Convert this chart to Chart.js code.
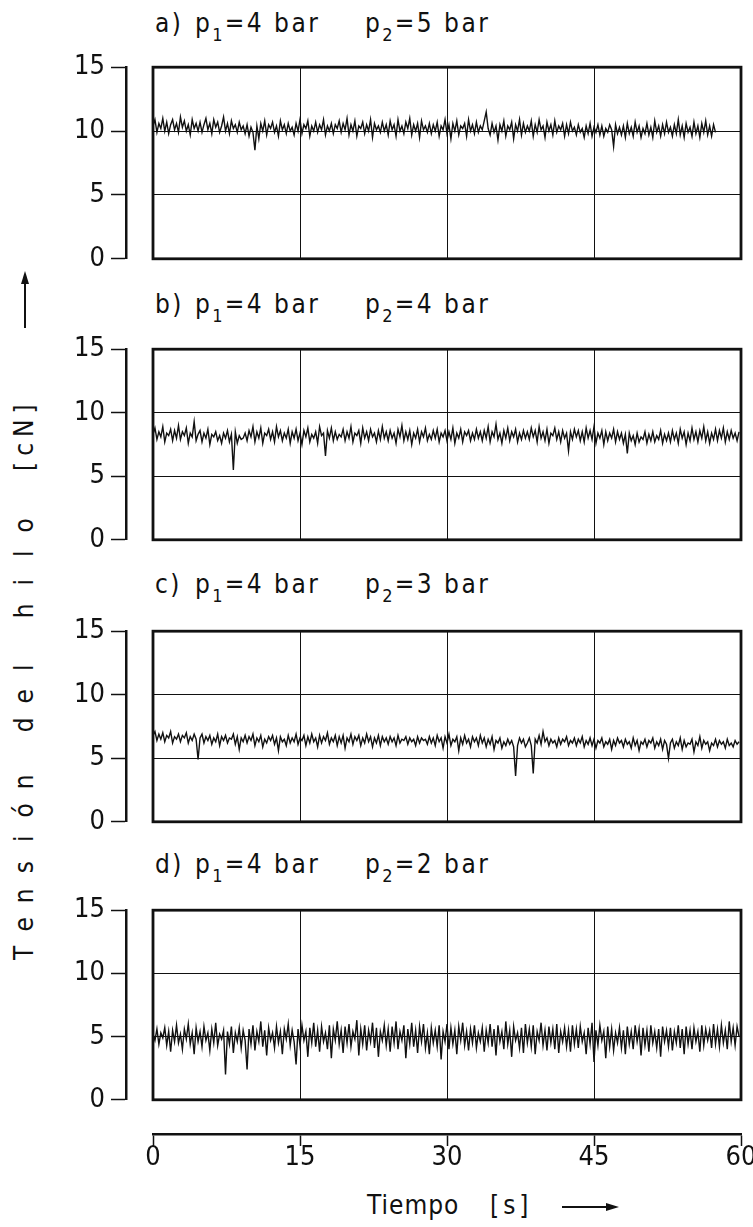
<!DOCTYPE html>
<html><head><meta charset="utf-8">
<script src="https://cdn.jsdelivr.net/npm/chart.js@4.4.1/dist/chart.umd.min.js"></script>
<style>
html,body{margin:0;padding:0;background:#fff;}
body{width:753px;height:1227px;position:relative;overflow:hidden;font-family:'Liberation Sans Narrow','DejaVu Sans Condensed','Liberation Sans',sans-serif;color:#111;}
canvas{position:absolute;left:0;}
.t{position:absolute;font-size:26px;line-height:26px;letter-spacing:2.5px;white-space:nowrap;}
.t sub{font-size:18px;vertical-align:-9px;line-height:0;letter-spacing:2px;}
#ytitle{position:absolute;left:0;top:0;transform-origin:0 0;font-size:26px;line-height:26px;white-space:nowrap;}
#ytitle span.c{display:inline-block;width:28.5px;text-align:center;}
.ln{position:absolute;background:#111;}
.tri-up{position:absolute;width:0;height:0;border-left:4px solid transparent;border-right:4px solid transparent;border-bottom:13px solid #111;}
.tri-right{position:absolute;width:0;height:0;border-top:4px solid transparent;border-bottom:4px solid transparent;border-left:13px solid #111;}
</style></head>
<body>
<div id="titles"></div>
<div id="ytitle"></div>
<div class="ln" style="left:24px;top:282px;width:2px;height:46px;"></div>
<div class="tri-up" style="left:21px;top:271px;"></div>
<div class="t" style="left:367px;top:1192px;letter-spacing:1px;">Tiempo</div>
<div class="t" style="left:490px;top:1192px;letter-spacing:4px;">[s]</div>
<div class="ln" style="left:562px;top:1206px;width:46px;height:2px;"></div>
<div class="tri-right" style="left:606px;top:1203px;"></div>
<script>
// ---------------- data ----------------
const STEP = 0.2; // seconds between samples
const panelLetters = ['a)', 'b)', 'c)', 'd)'];
const p1Values = [4, 4, 4, 4];
const p2Values = [5, 4, 3, 2];
const yTickValues = [0, 5, 10, 15];
const xTickValues = [0, 15, 30, 45, 60];
const yAxisTitle = 'Tensión del hilo';
const yAxisUnit = '[cN]';

const panelA = [
10.4,10.9,9.9,10.6,10.2,11.0,10.0,10.7,9.8,10.5,10.9,10.1,10.6,9.9,11.1,10.3,10.8,10.0,10.5,9.7,10.9,10.2,10.6,10.0,
10.7,9.9,10.5,11.0,10.1,10.6,9.8,10.9,10.3,10.7,9.9,10.4,11.1,10.0,10.6,9.8,10.8,10.2,10.5,9.9,10.7,10.1,10.4,9.8,
10.5,9.6,10.3,9.9,8.5,10.4,9.4,10.6,10.0,10.8,9.7,10.5,10.2,10.7,9.9,10.4,9.6,10.8,10.1,10.5,9.8,10.6,10.0,10.3,
9.7,10.6,10.0,10.9,9.8,10.5,10.2,10.8,9.6,10.4,10.0,10.7,9.9,10.5,10.1,10.9,9.7,10.4,10.0,10.6,9.8,10.5,10.2,10.8,
9.9,10.6,10.1,11.0,9.7,10.5,10.0,10.8,9.6,10.4,10.2,10.7,9.8,10.5,10.0,10.9,9.5,10.6,10.1,10.4,9.9,10.7,10.0,10.5,
9.7,10.8,10.1,10.5,9.6,10.9,10.0,10.4,9.8,10.7,10.2,11.0,9.7,10.5,10.0,10.6,9.5,10.8,10.1,10.4,9.9,10.6,9.8,10.5,
10.0,10.7,9.6,10.4,10.1,10.9,9.8,10.5,9.4,10.6,10.0,10.8,9.7,10.4,10.2,10.6,9.6,10.9,10.0,10.5,9.8,10.7,9.9,10.4,
10.1,10.8,11.5,10.2,9.7,10.6,9.9,10.4,9.3,10.5,10.0,10.8,9.6,10.4,10.1,10.7,9.4,10.5,10.0,10.9,9.7,10.6,9.9,10.4,
10.0,10.8,9.6,10.5,9.9,10.9,10.1,10.4,9.5,10.7,10.0,10.5,9.7,10.8,9.9,10.4,10.1,10.6,9.6,10.5,9.8,10.7,10.0,10.3,
9.7,10.5,9.9,10.2,9.5,10.4,9.8,10.6,9.6,10.3,9.9,10.5,9.7,10.4,9.6,10.2,9.9,10.5,10.1,8.8,10.5,9.8,10.3,9.7,
10.4,9.5,10.6,9.8,10.3,9.6,10.7,9.9,10.4,9.5,10.2,9.8,10.6,9.7,10.3,9.5,10.8,9.9,10.4,9.6,10.5,9.8,10.7,9.9,
10.3,9.6,10.5,9.8,10.9,9.7,10.4,9.5,10.6,9.9,10.3,9.6,10.7,9.8,10.4,9.5,10.6,9.9,10.8,9.7,10.4,9.6,10.5,9.9
];
const panelB = [
8.3,8.8,7.9,8.5,8.1,8.9,7.7,8.4,8.2,8.7,7.8,8.6,8.0,9.0,7.9,8.5,8.2,8.8,7.6,8.4,8.1,9.3,7.8,8.3,
8.6,7.7,8.4,8.0,8.7,7.5,8.3,8.1,8.5,7.8,8.2,7.6,8.4,8.0,8.6,7.7,8.3,5.5,8.5,7.6,8.2,7.9,8.0,8.4,
7.8,8.6,8.1,8.9,7.7,8.5,8.0,8.8,7.6,8.4,8.2,8.7,7.9,8.5,7.7,8.9,8.1,8.6,7.8,8.4,8.0,8.7,7.6,8.5,
8.0,8.7,7.8,8.4,7.5,8.6,8.1,8.8,7.7,8.3,8.0,8.5,7.6,8.9,8.2,8.4,6.6,8.6,8.0,8.8,7.8,8.5,7.9,8.3,
8.1,8.7,7.8,8.5,8.0,8.9,7.7,8.4,8.2,8.6,7.6,8.8,8.0,8.5,7.8,8.7,8.1,8.4,7.7,8.6,7.9,8.9,8.0,8.5,
7.8,8.6,8.0,8.4,7.6,8.7,8.1,9.0,7.8,8.5,7.9,8.6,7.5,8.4,8.0,8.7,7.7,8.5,8.1,8.8,7.8,8.3,7.9,8.6,
8.0,8.7,7.7,8.4,8.1,8.6,7.8,8.5,7.9,8.8,7.6,8.4,8.0,8.7,7.7,8.5,8.2,8.6,7.8,8.4,7.9,8.7,8.0,8.5,
7.8,8.6,8.0,8.9,7.7,8.5,8.1,9.1,7.9,8.4,7.6,8.6,8.0,8.8,7.8,8.5,8.1,8.7,7.7,8.4,7.9,8.6,8.0,8.5,
7.9,8.8,8.1,8.6,7.7,8.9,8.0,8.5,7.8,8.7,7.6,8.4,8.2,8.8,7.9,8.5,7.7,8.6,8.0,8.4,7.0,8.5,7.9,8.7,
8.1,8.6,7.8,8.5,7.7,8.8,8.0,8.6,7.9,8.9,7.6,8.4,8.0,8.6,7.5,8.5,7.8,8.4,8.0,8.7,7.7,8.5,7.9,8.4,
7.6,8.3,6.8,8.4,7.8,8.2,7.5,8.4,7.7,8.1,7.9,8.5,7.6,8.3,7.8,8.5,7.7,8.2,7.9,8.6,7.6,8.3,7.8,8.4,
7.7,8.6,7.9,8.4,7.6,8.7,8.0,8.5,7.5,8.4,7.8,8.8,7.9,8.5,7.7,8.6,8.0,8.9,7.8,8.5,7.6,8.4,7.9,8.7,
7.8,8.6,8.0,8.8,7.7,8.5,7.9,8.6,8.0,8.4,7.8,8.5
];
const panelC = [
6.8,7.1,6.4,6.9,6.5,7.0,6.3,6.8,6.6,7.1,6.2,6.7,6.5,6.9,6.3,6.8,6.6,7.0,6.2,6.7,6.4,6.9,6.5,4.9,
6.6,6.9,6.2,6.7,6.4,6.8,6.1,6.6,6.3,6.9,6.0,6.7,6.4,6.8,6.2,6.6,6.5,6.9,6.1,6.7,5.7,6.6,6.3,6.8,
6.2,6.7,6.4,6.9,6.0,6.6,6.3,6.8,5.9,6.5,6.2,6.7,6.4,6.8,6.1,6.6,5.6,6.7,6.3,6.5,6.0,6.8,6.2,6.6,
6.3,6.9,6.1,6.6,6.4,6.8,6.0,6.7,6.2,6.9,6.3,6.6,5.9,6.8,6.2,6.7,6.4,7.0,6.1,6.6,6.3,6.8,6.0,6.7,
6.2,6.8,5.8,6.6,6.3,6.9,6.1,6.7,6.4,6.8,6.0,6.6,6.2,6.9,6.3,6.7,5.9,6.6,6.2,6.8,6.0,6.7,6.3,6.6,
6.1,6.7,6.3,6.6,6.0,6.8,6.2,6.5,6.4,6.7,6.1,6.6,6.3,6.5,6.0,6.7,6.2,6.6,6.4,6.5,6.1,6.7,6.2,6.6,
6.0,6.8,6.3,6.6,5.8,6.7,6.2,6.9,6.0,6.5,6.3,6.7,5.6,6.6,6.1,6.8,6.2,6.5,5.9,6.7,6.3,6.6,6.0,6.8,
6.2,6.6,5.9,6.5,6.1,6.7,5.7,6.4,6.2,6.6,5.8,6.3,6.0,6.5,6.1,6.4,5.9,3.6,6.0,6.6,6.2,6.5,5.9,6.2,
6.6,6.0,3.8,6.5,6.2,6.8,6.1,7.1,6.3,6.6,6.0,6.5,6.2,6.4,5.9,6.6,6.1,6.5,6.3,6.7,6.0,6.4,6.2,6.6,
6.0,6.5,6.2,6.7,5.9,6.4,6.1,6.6,6.0,6.5,5.8,6.4,6.2,6.6,5.9,6.3,6.1,6.5,5.7,6.4,6.0,6.6,6.2,6.4,
5.9,6.5,6.1,6.3,5.8,6.6,6.0,6.4,5.6,6.3,6.1,6.5,5.9,6.4,6.2,6.6,5.8,6.3,6.0,6.5,5.7,6.4,6.1,5.0,
6.2,6.5,5.8,6.3,6.0,6.6,5.7,6.4,5.9,6.2,6.1,6.5,5.5,6.3,6.0,6.7,5.8,6.4,6.1,6.3,5.6,6.2,6.0,6.5,
5.9,6.4,6.1,6.3,5.8,6.5,6.0,6.2,5.9,6.4,6.1,6.3
];
const panelD = [
5.2,4.7,5.6,4.4,5.3,4.9,5.7,4.3,5.4,3.8,5.5,4.6,5.9,4.5,5.2,4.0,5.6,4.8,6.0,4.4,5.3,3.6,5.7,4.6,
5.4,4.2,5.8,4.7,5.3,3.9,5.6,4.5,6.1,4.3,5.2,4.8,5.5,2.0,5.4,4.4,5.8,3.7,5.3,4.6,5.7,4.1,5.5,4.7,
2.4,5.6,4.4,5.9,3.9,5.4,4.6,6.2,4.2,5.5,3.5,5.7,4.7,5.3,4.1,5.8,4.5,5.4,3.6,5.6,4.8,6.0,4.3,5.5,
4.6,2.8,5.6,4.3,5.9,4.7,5.4,3.4,5.7,4.5,6.1,4.2,5.5,3.8,5.8,4.6,5.3,4.0,5.9,3.3,5.6,4.7,6.2,4.4,
5.5,3.7,5.8,4.5,6.0,4.2,5.4,4.8,6.3,3.5,5.6,4.4,5.9,3.9,5.5,4.6,6.1,4.1,5.7,3.4,5.4,4.7,5.9,4.3,
5.6,3.8,5.8,4.5,6.2,4.0,5.4,4.7,5.9,3.3,5.6,4.4,6.1,4.2,5.5,3.7,5.8,4.6,6.0,4.1,5.3,3.6,5.7,4.5,
5.5,4.2,5.9,3.2,5.4,4.6,6.0,4.0,5.7,4.4,5.5,3.6,5.8,4.7,6.1,4.3,5.4,3.9,5.6,4.5,5.9,4.1,5.3,4.6,
5.7,3.8,5.5,4.5,6.0,4.2,5.6,3.5,5.9,4.6,5.4,4.0,6.2,4.4,5.5,3.4,5.8,4.7,5.3,4.1,5.7,3.7,6.0,4.5,
5.6,4.2,5.9,3.6,5.4,4.7,6.1,4.3,5.5,3.9,5.8,4.5,5.6,4.0,6.0,3.7,5.4,4.6,5.7,4.2,5.5,3.8,5.9,4.4,
5.6,4.1,5.8,4.6,5.3,3.6,5.7,4.4,6.1,3.0,5.5,4.3,5.9,4.7,5.4,3.3,5.8,4.2,5.6,3.9,5.3,4.5,5.7,4.1,
5.5,3.6,5.8,4.4,5.4,4.0,5.9,4.6,5.6,3.5,5.7,4.3,5.5,3.8,5.9,4.5,5.4,4.1,5.6,3.4,5.8,4.6,5.5,4.2,
5.7,3.9,5.4,4.5,5.9,4.1,5.6,3.6,5.8,4.4,5.5,4.0,5.7,4.6,5.4,3.8,5.9,4.3,5.6,4.7,5.5,4.1,6.0,4.4,
5.6,4.2,5.9,4.5,5.5,4.0,6.2,4.6,5.7,4.3,5.8,5.0
];
const panelSeries = [panelA, panelB, panelC, panelD];

// ---------------- layout ----------------
const FONT = "'Liberation Sans Narrow','DejaVu Sans Condensed','Liberation Sans',sans-serif";
const INK = '#111';
const panelTops = [59, 341, 623, 902];
const panelBottoms = [267, 548, 830, 1108];
const titleTops = [10, 291, 571, 851];
const PAD = 14;

const boxPlugin = {
  id: 'box',
  afterDatasetsDraw(chart) {
    const {ctx, chartArea: a} = chart;
    ctx.save();
    ctx.strokeStyle = INK;
    ctx.lineWidth = 2.8;
    ctx.strokeRect(a.left, a.top, a.right - a.left, a.bottom - a.top);
    ctx.restore();
  }
};

function makePanel(idx) {
  const top = panelTops[idx], bottom = panelBottoms[idx];
  const h = bottom - top + 2 * PAD;
  const cv = document.createElement('canvas');
  cv.width = 753; cv.height = h;
  cv.style.top = (top - PAD) + 'px';
  cv.style.width = '753px'; cv.style.height = h + 'px';
  document.body.appendChild(cv);
  const vals = panelSeries[idx];
  const pts = vals.map((v, i) => ({x: +(i * STEP).toFixed(2), y: v}));
  new Chart(cv.getContext('2d'), {
    type: 'line',
    data: {datasets: [{data: pts, borderColor: INK, borderWidth: 1.4, pointRadius: 0, tension: 0, fill: false, xAxisID: 'x', yAxisID: 'y'}]},
    options: {
      responsive: false, animation: false, events: [], devicePixelRatio: 1,
      layout: {padding: {top: PAD, bottom: PAD, left: 0, right: 12}},
      plugins: {legend: {display: false}, tooltip: {enabled: false}},
      scales: {
        x: {type: 'linear', min: 0, max: 60, position: 'bottom',
            afterBuildTicks: s => { s.ticks = xTickValues.map(v => ({value: v})); },
            ticks: {display: false},
            grid: {color: INK, lineWidth: 1, drawTicks: false},
            border: {display: false},
            afterFit: s => { s.height = 0; }},
        y: {type: 'linear', min: 0, max: 15, position: 'left', weight: 0,
            afterBuildTicks: s => { s.ticks = yTickValues.map(v => ({value: v})); },
            ticks: {display: false},
            grid: {color: INK, lineWidth: 1, drawTicks: false},
            border: {display: false},
            afterFit: s => { s.width = 27; }},
        yT: {type: 'linear', min: 0, max: 15, position: 'left', weight: 10,
            afterBuildTicks: s => { s.ticks = yTickValues.map(v => ({value: v})); },
            ticks: {color: INK, font: {family: FONT, size: 27}, padding: 6},
            grid: {drawOnChartArea: false, drawTicks: true, tickLength: 15, tickWidth: 1.5, tickColor: INK},
            border: {display: true, color: INK, width: 2.5},
            afterFit: s => { s.width = 126; }}
      }
    },
    plugins: [boxPlugin]
  });
}
for (let i = 0; i < 4; i++) makePanel(i);

// bottom time axis
(function () {
  const cv = document.createElement('canvas');
  cv.width = 753; cv.height = 100;
  cv.style.top = '1100px'; cv.style.width = '753px'; cv.style.height = '100px';
  document.body.appendChild(cv);
  new Chart(cv.getContext('2d'), {
    type: 'line',
    data: {datasets: []},
    options: {
      responsive: false, animation: false, events: [], devicePixelRatio: 1,
      layout: {padding: {top: 0, bottom: 6, left: 153, right: 12}},
      plugins: {legend: {display: false}, tooltip: {enabled: false}},
      scales: {
        x: {type: 'linear', min: 0, max: 60, position: 'bottom',
            afterBuildTicks: s => { s.ticks = xTickValues.map(v => ({value: v})); },
            ticks: {color: INK, font: {family: FONT, size: 27}, padding: -4, maxRotation: 0, autoSkip: false},
            grid: {drawOnChartArea: false, drawTicks: true, tickLength: 12, tickWidth: 1.5, tickColor: INK},
            border: {display: true, color: INK, width: 2.5},
            afterFit: s => { s.height = 60; }},
        y: {display: false, min: 0, max: 1}
      }
    }
  });
})();

// panel titles
const tdiv = document.getElementById('titles');
for (let i = 0; i < 4; i++) {
  const top = titleTops[i];
  tdiv.insertAdjacentHTML('beforeend',
    `<div class="t" style="left:155px;top:${top}px;">${panelLetters[i]}</div>` +
    `<div class="t" style="left:195px;top:${top}px;">p<sub>1</sub>=${p1Values[i]} bar</div>` +
    `<div class="t" style="left:365px;top:${top}px;">p<sub>2</sub>=${p2Values[i]} bar</div>`);
}

// rotated y-axis title
const yt = document.getElementById('ytitle');
yt.innerHTML = [...yAxisTitle].map(ch => `<span class="c">${ch === ' ' ? '&nbsp;' : ch}</span>`).join('') +
  `<span style="margin-left:40px;letter-spacing:6px;">${yAxisUnit}</span>`;
yt.style.transform = 'translate(11px, 967px) rotate(-90deg)';
</script>
</body></html>
